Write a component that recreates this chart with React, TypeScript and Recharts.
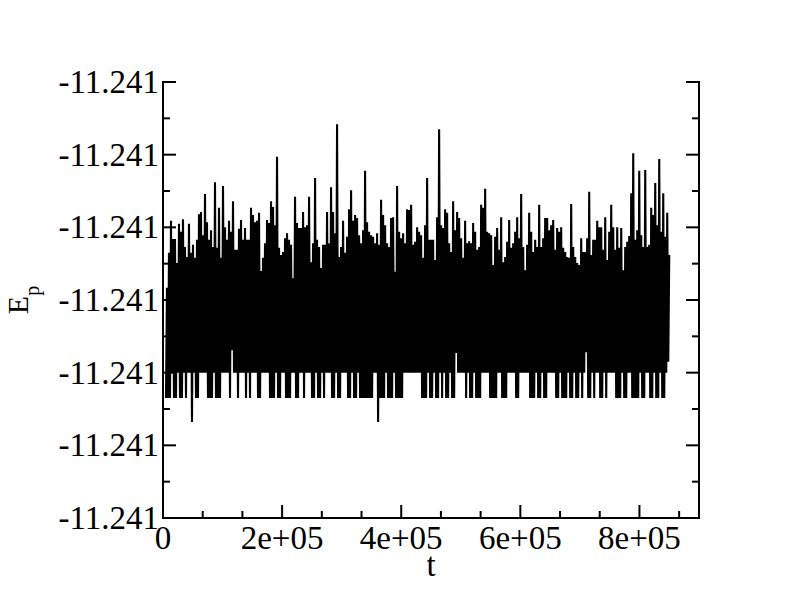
import React from 'react';
import { LineChart, Line, XAxis, YAxis } from 'recharts';

// sampling grid of the time series
const T0 = 5000;
const DT = 3360;

// upper envelope of E_p per sampling bin
const hiE = [
  -11.240983, -11.240935, -11.240891, -11.240916, -11.240916, -11.240949, -11.240895, -11.240906, -11.240889, -11.240927,
  -11.240941, -11.240895, -11.240935, -11.240924, -11.240942, -11.240917, -11.240882, -11.240879, -11.240911, -11.240854,
  -11.240893, -11.240917, -11.240904, -11.240927, -11.240838, -11.240928, -11.240873, -11.240942, -11.240843, -11.2409,
  -11.240917, -11.240891, -11.240906, -11.240864, -11.240931, -11.240931, -11.240902, -11.24089, -11.240917, -11.240901,
  -11.240917, -11.240917, -11.240873, -11.240883, -11.240893, -11.240891, -11.24088, -11.24096, -11.240942, -11.240922,
  -11.24089, -11.240894, -11.240864, -11.240872, -11.240897, -11.240803, -11.240928, -11.240938, -11.240934, -11.240915,
  -11.240908, -11.240917, -11.240924, -11.24097, -11.240858, -11.240894, -11.240901, -11.240901, -11.240879, -11.2409,
  -11.240897, -11.240858, -11.240948, -11.240922, -11.240832, -11.240917, -11.240927, -11.240956, -11.240924, -11.240924,
  -11.240879, -11.240922, -11.240845, -11.240879, -11.240908, -11.240758, -11.240941, -11.240927, -11.240891, -11.240935,
  -11.240913, -11.240875, -11.240849, -11.240891, -11.240883, -11.240887, -11.240911, -11.240922, -11.240904, -11.240822,
  -11.240893, -11.240906, -11.240911, -11.240913, -11.240922, -11.240908, -11.240924, -11.240862, -11.240883, -11.240897,
  -11.240922, -11.240927, -11.240887, -11.240886, -11.240961, -11.240843, -11.240906, -11.240915, -11.240908, -11.240922,
  -11.240875, -11.240876, -11.240869, -11.240924, -11.24092, -11.2409, -11.240906, -11.240911, -11.240942, -11.240897,
  -11.240832, -11.240917, -11.240917, -11.240917, -11.240945, -11.240886, -11.240765, -11.240897, -11.240901, -11.240875,
  -11.24088, -11.240922, -11.240934, -11.240864, -11.240904, -11.240879, -11.240887, -11.240915, -11.240942, -11.240891,
  -11.240922, -11.240919, -11.240922, -11.240894, -11.240906, -11.240931, -11.240927, -11.240869, -11.240873, -11.240847,
  -11.240906, -11.240908, -11.240911, -11.240952, -11.240913, -11.240901, -11.240931, -11.240886, -11.240948, -11.240941,
  -11.24092, -11.24089, -11.240928, -11.240922, -11.240906, -11.240886, -11.240915, -11.240854, -11.240927, -11.240959,
  -11.240924, -11.24088, -11.240906, -11.240934, -11.240917, -11.240927, -11.240869, -11.240927, -11.240915, -11.240887,
  -11.240887, -11.240904, -11.240897, -11.24089, -11.240931, -11.240901, -11.240906, -11.2409, -11.240928, -11.240934,
  -11.240941, -11.240942, -11.240868, -11.240927, -11.240941, -11.240949, -11.240952, -11.240915, -11.240934, -11.240934,
  -11.240915, -11.240851, -11.240938, -11.240917, -11.240917, -11.240891, -11.2409, -11.2409, -11.240931, -11.240886,
  -11.240945, -11.240906, -11.240869, -11.2409, -11.240931, -11.2409, -11.240928, -11.240901, -11.240959, -11.240927,
  -11.24092, -11.240912, -11.240853, -11.240798, -11.240917, -11.240904, -11.240822, -11.240911, -11.240927, -11.240821,
  -11.240927, -11.240924, -11.240873, -11.240883, -11.240839, -11.240897, -11.240806, -11.240906, -11.240853, -11.240913,
  -11.24088, -11.240938,
];

// lower envelope of E_p per sampling bin
const loE = [
  -11.241135, -11.241135, -11.241135, -11.2411, -11.241135, -11.241135, -11.2411, -11.241135, -11.241135, -11.2411,
  -11.241135, -11.2411, -11.2411, -11.241168, -11.2411, -11.241135, -11.241135, -11.2411, -11.2411, -11.2411,
  -11.2411, -11.241135, -11.241135, -11.241135, -11.2411, -11.241135, -11.241135, -11.241135, -11.2411, -11.2411,
  -11.2411, -11.2411, -11.241135, -11.241069, -11.2411, -11.2411, -11.241135, -11.2411, -11.2411, -11.2411,
  -11.241135, -11.2411, -11.241135, -11.2411, -11.2411, -11.2411, -11.241135, -11.241135, -11.2411, -11.2411,
  -11.2411, -11.2411, -11.241135, -11.241135, -11.241135, -11.2411, -11.241135, -11.241135, -11.2411, -11.2411,
  -11.241135, -11.241135, -11.241135, -11.2411, -11.2411, -11.241135, -11.241135, -11.2411, -11.2411, -11.241135,
  -11.2411, -11.2411, -11.2411, -11.241135, -11.241135, -11.2411, -11.241135, -11.241135, -11.2411, -11.241135,
  -11.2411, -11.2411, -11.2411, -11.241135, -11.241135, -11.2411, -11.241135, -11.241135, -11.2411, -11.2411,
  -11.2411, -11.241135, -11.241135, -11.2411, -11.241135, -11.241135, -11.2411, -11.241135, -11.241135, -11.241135,
  -11.241135, -11.241135, -11.241135, -11.241135, -11.2411, -11.2411, -11.241168, -11.241135, -11.241135, -11.241135,
  -11.2411, -11.241135, -11.241135, -11.241135, -11.2411, -11.241135, -11.241135, -11.241135, -11.241135, -11.2411,
  -11.2411, -11.2411, -11.2411, -11.2411, -11.2411, -11.2411, -11.2411, -11.2411, -11.241135, -11.241135,
  -11.241135, -11.2411, -11.241135, -11.241135, -11.2411, -11.241135, -11.241135, -11.2411, -11.241135, -11.2411,
  -11.241135, -11.241135, -11.2411, -11.241135, -11.241135, -11.241073, -11.2411, -11.2411, -11.2411, -11.2411,
  -11.241135, -11.2411, -11.241135, -11.241135, -11.2411, -11.241135, -11.241135, -11.241135, -11.2411, -11.2411,
  -11.2411, -11.2411, -11.241135, -11.241135, -11.241135, -11.241135, -11.2411, -11.2411, -11.241135, -11.241135,
  -11.241135, -11.2411, -11.2411, -11.2411, -11.2411, -11.241135, -11.241135, -11.2411, -11.2411, -11.2411,
  -11.2411, -11.2411, -11.241135, -11.241135, -11.241135, -11.2411, -11.241135, -11.241135, -11.2411, -11.241135,
  -11.241135, -11.2411, -11.2411, -11.2411, -11.2411, -11.241135, -11.241135, -11.2411, -11.241135, -11.241135,
  -11.241135, -11.2411, -11.241135, -11.241135, -11.2411, -11.241135, -11.241135, -11.2411, -11.241135, -11.2411,
  -11.241072, -11.241135, -11.241135, -11.2411, -11.241135, -11.2411, -11.2411, -11.241135, -11.241135, -11.2411,
  -11.241135, -11.2411, -11.2411, -11.2411, -11.2411, -11.241135, -11.241135, -11.241135, -11.2411, -11.241135,
  -11.241135, -11.2411, -11.2411, -11.241135, -11.241135, -11.241135, -11.241135, -11.2411, -11.241135, -11.241135,
  -11.2411, -11.2411, -11.241135, -11.241135, -11.2411, -11.241135, -11.241135, -11.2411, -11.241135, -11.241135,
  -11.2411, -11.241085,
];

const yTicks = [
  -11.2413, -11.24125, -11.2412, -11.24115, -11.2411, -11.24105, -11.241,
  -11.24095, -11.2409, -11.24085, -11.2408, -11.24075, -11.2407,
];
const xTicks = [
  0, 66667, 133333, 200000, 266667, 333333, 400000, 466667, 533333, 600000,
  666667, 733333, 800000, 866667,
];
const X_DOMAIN: [number, number] = [0, 900000];
const Y_DOMAIN: [number, number] = [-11.2413, -11.2407];

const data: { t: number; E: number }[] = [];
for (let k = 0; k < hiE.length; k++) {
  data.push({ t: T0 + k * DT, E: loE[k] });
  data.push({ t: T0 + k * DT + DT / 2, E: hiE[k] });
}

const FONT = '"Liberation Serif", "Times New Roman", Times, serif';
const MAJOR = 13;
const MINOR = 7;

const fmtX = (v: number) => (v === 0 ? '0' : `${Math.round(v / 1e5)}e+05`);

const BottomTick = (p: any) => {
  const major = p.index % 3 === 0;
  return (
    <g>
      <line x1={p.x} y1={p.y} x2={p.x} y2={p.y - (major ? MAJOR : MINOR)} stroke="#000" strokeWidth={2} />
      {major && (
        <text x={p.x} y={p.y + 31} textAnchor="middle" fontSize={33} fontFamily={FONT} fill="#000">
          {fmtX(p.payload.value)}
        </text>
      )}
    </g>
  );
};

const TopTick = (p: any) => {
  const major = p.index % 3 === 0;
  return <line x1={p.x} y1={p.y} x2={p.x} y2={p.y + (major ? MAJOR : MINOR)} stroke="#000" strokeWidth={2} />;
};

const LeftTick = (p: any) => {
  const major = p.index % 2 === 0;
  return (
    <g>
      <line x1={p.x} y1={p.y} x2={p.x + (major ? MAJOR : MINOR)} y2={p.y} stroke="#000" strokeWidth={2} />
      {major && (
        <text x={p.x - 4} y={p.y + 11} textAnchor="end" fontSize={33} fontFamily={FONT} fill="#000">
          {p.payload.value.toFixed(3)}
        </text>
      )}
    </g>
  );
};

const RightTick = (p: any) => {
  const major = p.index % 2 === 0;
  return <line x1={p.x} y1={p.y} x2={p.x - (major ? MAJOR : MINOR)} y2={p.y} stroke="#000" strokeWidth={2} />;
};

const YLabel = (p: any) => {
  const vb = p.viewBox || { x: 0, y: 82, width: 163, height: 436 };
  const cy = vb.y + vb.height / 2;
  return (
    <text transform={`translate(28, ${cy}) rotate(-90)`} textAnchor="middle" fontSize={30} fontFamily={FONT} fill="#000">
      E<tspan dy={11} fontSize={20}>p</tspan>
    </text>
  );
};

const XLabel = (p: any) => {
  const vb = p.viewBox || { x: 163, y: 518, width: 536, height: 91 };
  return (
    <text x={vb.x + vb.width / 2} y={vb.y + 58} textAnchor="middle" fontSize={33} fontFamily={FONT} fill="#000">
      t
    </text>
  );
};

const axisLine = { stroke: '#000', strokeWidth: 2, strokeLinecap: 'square' as const };

export default function App() {
  return (
    <div style={{ position: 'absolute', left: 0, top: 0, width: 792, height: 609, background: '#fff' }}>
      <LineChart width={792} height={609} data={data} margin={{ top: 82, right: 0, bottom: 0, left: 0 }}>
        <XAxis
          dataKey="t"
          type="number"
          domain={X_DOMAIN}
          allowDataOverflow
          ticks={xTicks}
          interval={0}
          height={91}
          tickSize={0}
          tickMargin={0}
          tickLine={false}
          axisLine={axisLine}
          tick={<BottomTick />}
          label={<XLabel />}
        />
        <XAxis
          xAxisId="top"
          orientation="top"
          dataKey="t"
          type="number"
          domain={X_DOMAIN}
          allowDataOverflow
          ticks={xTicks}
          interval={0}
          height={0}
          tickSize={0}
          tickMargin={0}
          tickLine={false}
          axisLine={axisLine}
          tick={<TopTick />}
        />
        <YAxis
          type="number"
          domain={Y_DOMAIN}
          allowDataOverflow
          ticks={yTicks}
          interval={0}
          width={163}
          tickSize={0}
          tickMargin={0}
          tickLine={false}
          axisLine={axisLine}
          tick={<LeftTick />}
          label={<YLabel />}
        />
        <YAxis
          yAxisId="right"
          orientation="right"
          type="number"
          domain={Y_DOMAIN}
          allowDataOverflow
          ticks={yTicks}
          interval={0}
          width={93}
          tickSize={0}
          tickMargin={0}
          tickLine={false}
          axisLine={axisLine}
          tick={<RightTick />}
        />
        <Line
          dataKey="E"
          type="linear"
          stroke="#000"
          strokeWidth={2.1}
          strokeLinejoin="bevel"
          dot={false}
          isAnimationActive={false}
        />
      </LineChart>
    </div>
  );
}
